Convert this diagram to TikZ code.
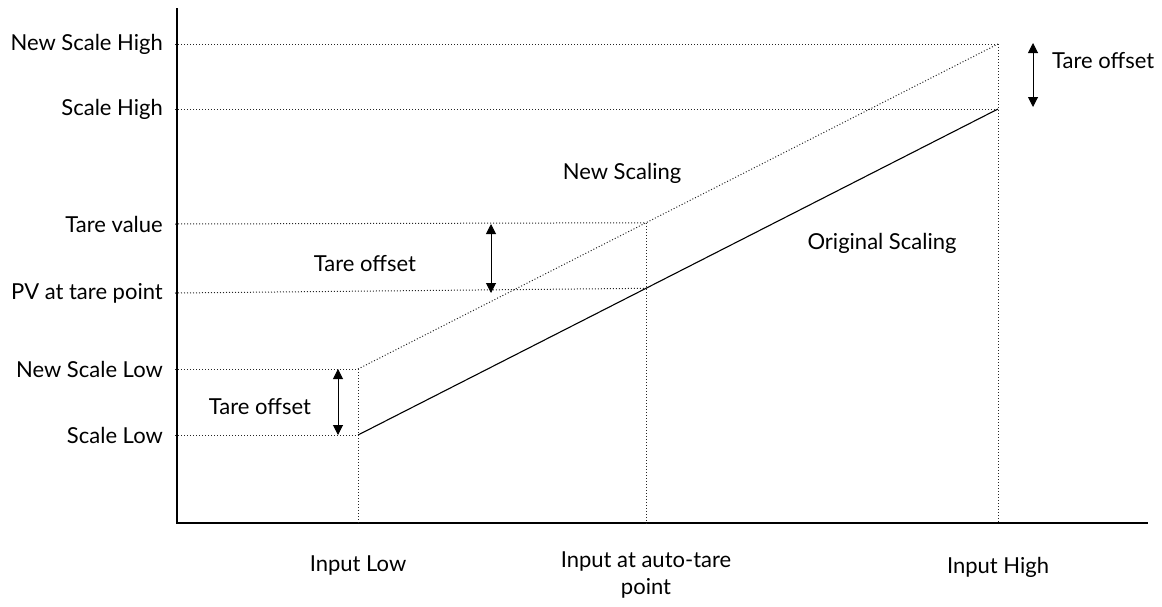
\documentclass[tikz,border=0pt]{standalone}
\usepackage{fontspec}
\setmainfont{Lato}
\usetikzlibrary{arrows.meta, positioning, calc}

\begin{document}
\begin{tikzpicture}[x=1pt, y=-1pt,
  guide/.style={dotted, line width=1pt, black!85},
  tarearrow/.style={{Triangle[length=10pt,width=10pt]}-{Triangle[length=10pt,width=10pt]}, line width=1pt},
  lbl/.style={font=\fontsize{22}{27}\selectfont, inner sep=0pt, align=center}]
  \useasboundingbox (0,0) rectangle (1162,606);

  % axes
  \coordinate (ytop) at (177,8);
  \coordinate (origin) at (177,523);
  \coordinate (xend) at (1148,523);
  \draw[line width=1.3pt] (ytop) -- (origin) -- (xend);

  % scaling end points
  \coordinate (lo-s) at (358,435);
  \coordinate (lo-n) at (358,369);
  \coordinate (hi-s) at (998,109);
  \coordinate (hi-n) at (998,44);
  \coordinate (mid-s) at ($(lo-s)!0.45!(hi-s)$);
  \coordinate (mid-n) at ($(lo-n)!0.45!(hi-n)$);

  % levels on the y axis
  \node[lbl, anchor=east] (nsh) at (163,44) {New Scale High};
  \node[lbl, anchor=east] (sh) at (163,109) {Scale High};
  \node[lbl, anchor=east] (tv) at (163,224) {Tare value};
  \node[lbl, anchor=east] (pv) at (163,293) {PV at tare point};
  \node[lbl, anchor=east] (nsl) at (163,369) {New Scale Low};
  \node[lbl, anchor=east] (sl) at (163,435) {Scale Low};

  \draw[guide] (175,44) -- (hi-n);
  \draw[guide] (175,109) -- (hi-s);
  \draw[guide] (175,224) -- (mid-n);
  \draw[guide] (175,293) -- (mid-s);
  \draw[guide] (175,369) -- (lo-n);
  \draw[guide] (175,435) -- (lo-s);

  % verticals down to the x axis
  \draw[guide] (hi-n) -- (hi-n |- origin);
  \draw[guide] (mid-n) -- (mid-n |- origin);
  \draw[guide] (lo-n) -- (lo-n |- origin);

  % scaling lines
  \draw[line width=1.1pt] (lo-s) -- (hi-s);
  \draw[guide] (lo-n) -- (hi-n);

  \node[lbl] (newsc) at (622,173) {New Scaling};
  \node[lbl] (origsc) at (882,243) {Original Scaling};

  % tare offsets
  \coordinate (t1a) at (338,369);
  \coordinate (t1b) at (338,435);
  \draw[tarearrow] (t1a) -- (t1b);
  \node[lbl] (to1) at (260,407) {Tare offset};

  \coordinate (t2a) at (491,224);
  \coordinate (t2b) at (491,293);
  \draw[tarearrow] (t2a) -- (t2b);
  \node[lbl] (to2) at (365,264) {Tare offset};

  \coordinate (t3a) at (1033,43);
  \coordinate (t3b) at (1033,107);
  \draw[tarearrow] (t3a) -- (t3b);
  \node[lbl, anchor=west] (to3) at (1052,61) {Tare offset};

  % inputs
  \node[lbl] (inlo) at (358,565) {Input Low};
  \node[lbl] (inmid) at (646,575) {Input at auto-tare\\point};
  \node[lbl] (inhi) at (998,567) {Input High};
\end{tikzpicture}
\end{document}
